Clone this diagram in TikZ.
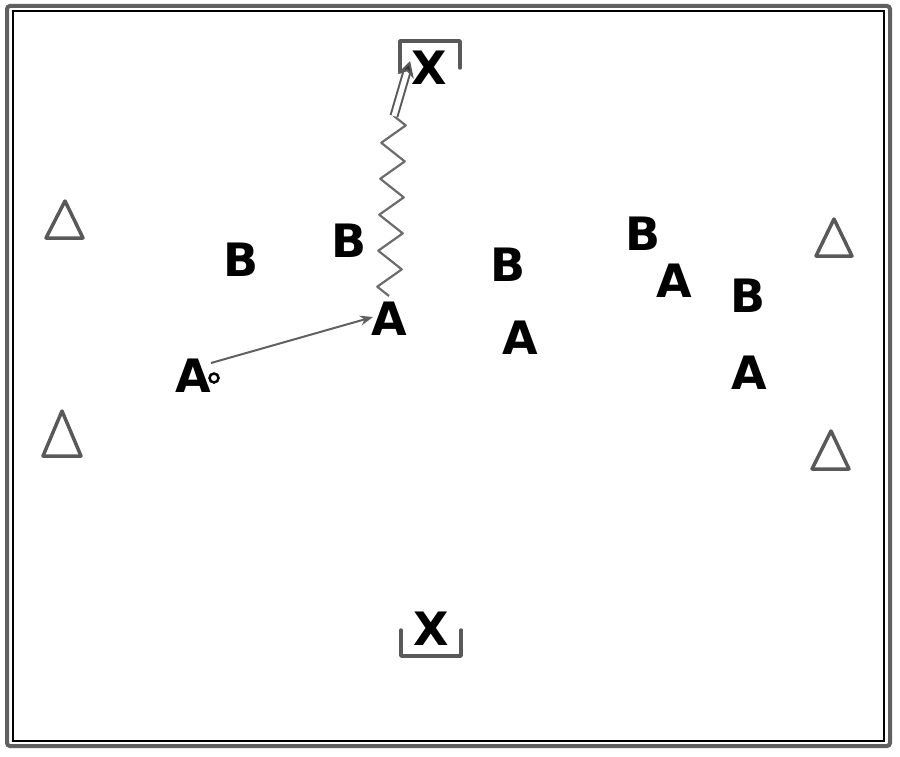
\documentclass[tikz,border=0pt]{standalone}
\usepackage{fontspec}
\setsansfont{DejaVu Sans}
\usetikzlibrary{arrows.meta,decorations.pathmorphing,calc}
\begin{document}
\begin{tikzpicture}[x=1pt,y=-1pt,
  player/.style={font=\sffamily\bfseries\fontsize{46}{46}\selectfont, inner sep=0pt, text=black},
  cone/.style={draw=gray!70!black, line width=3.5pt, line join=round},
  goalline/.style={draw=gray!70!black, line width=3.5pt, line join=round, line cap=round},
  pass/.style={draw=gray!75!black, line width=2pt, -{Stealth[length=13pt,width=10pt,fill=black!85]}},
  dribble/.style={draw=gray!85!black, line width=2.2pt, line join=round, decorate, decoration={zigzag, segment length=36pt, amplitude=12pt}},
  run/.style={draw=gray!70!black, line width=2pt, double=white, double distance=5pt, -{Stealth[length=16pt,width=17pt,fill=black!80]}}
]
\useasboundingbox (0,0) rectangle (900,757);
% frame
\draw[draw=gray!75!black, line width=4pt, rounded corners=3pt] (7,6) rectangle (890,746);
\draw[black, line width=1.5pt] (13,11) rectangle (884,741);

% cones
\draw[cone] (65,201) -- (83,238) -- (46,238) -- cycle;
\draw[cone] (62,411) -- (81,456) -- (43,456) -- cycle;
\draw[cone] (834,219) -- (852,256) -- (816,256) -- cycle;
\draw[cone] (831,431) -- (849,469) -- (812,469) -- cycle;

% goals
\node[player] (xt) at (429,68) {X};
\node[player] (xb) at (431,629) {X};
\draw[goalline] (400,72) -- (400,41) -- (460,41) -- (460,68);
\draw[goalline] (401,630) -- (401,656) -- (461,656) -- (461,630);

% players
\node[player] (b1) at (241,260) {B};
\node[player] (b2) at (349,241) {B};
\node[player] (b3) at (508,265) {B};
\node[player] (b4) at (643,234) {B};
\node[player] (b5) at (748,296) {B};
\node[player] (a1) at (193,376) {A};
\node[player] (a2) at (389,319) {A};
\node[player] (a3) at (520,338) {A};
\node[player] (a4) at (674,281) {A};
\node[player] (a5) at (749,373) {A};

% ball
\node[circle, draw=black, line width=2.5pt, fill=white, inner sep=0pt, minimum size=9pt] (ball) at (214,378) {};

% pass
\draw[pass] ($(a1.east)+(0,-13)$) -- ($(a2.west)+(2,-2)$);
% dribble and run
\coordinate (turn) at (394,116);
\draw[dribble] ($(a2.north)+(0,-6)$) -- (turn);
\draw[run] (turn) -- ($(xt.south west)+(-1,-24)$);
\end{tikzpicture}
\end{document}
